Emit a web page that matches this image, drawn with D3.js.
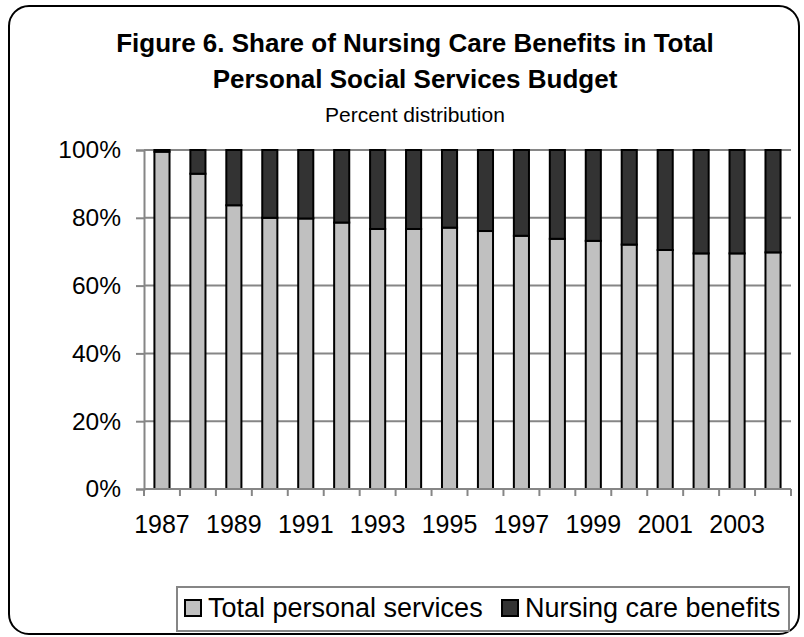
<!DOCTYPE html>
<html>
<head>
<meta charset="utf-8">
<script src="https://cdn.jsdelivr.net/npm/d3@7"></script>
<style>
  html, body { margin: 0; padding: 0; background: #fff; }
  text { font-family: "Liberation Sans", Arial, sans-serif; fill: #000; }
</style>
</head>
<body>
<svg id="chart" width="804" height="637"></svg>
<script>
const years = ["1987","1988","1989","1990","1991","1992","1993","1994","1995","1996","1997","1998","1999","2000","2001","2002","2003","2004"];
const totalPersonal = [99.5, 93.0, 83.7, 80.0, 79.8, 78.6, 76.7, 76.7, 77.1, 76.1, 74.7, 73.8, 73.2, 72.1, 70.5, 69.5, 69.5, 69.8];
const nursingCare = totalPersonal.map(v => +(100 - v).toFixed(1));
const seriesNames = ["Total personal services", "Nursing care benefits"];
const seriesColors = ["#c0c0c0", "#333333"];
const yTicks = [0, 20, 40, 60, 80, 100];
const titleLines = ["Figure 6. Share of Nursing Care Benefits in Total", "Personal Social Services Budget"];
const subtitle = "Percent distribution";

const svg = d3.select("#chart");
const plot = {left: 144, right: 791, top: 150, bottom: 489};

// Outer frame
svg.append("rect")
  .attr("x", 9).attr("y", 6).attr("width", 790).attr("height", 628)
  .attr("rx", 20).attr("ry", 20)
  .attr("fill", "#fff").attr("stroke", "#000").attr("stroke-width", 2);

// Titles
svg.append("text").attr("x", 415).attr("y", 52).attr("text-anchor", "middle")
  .style("font-size", "26px").style("font-weight", "bold").text(titleLines[0]);
svg.append("text").attr("x", 415).attr("y", 88).attr("text-anchor", "middle")
  .style("font-size", "26px").style("font-weight", "bold").text(titleLines[1]);
svg.append("text").attr("x", 415).attr("y", 122).attr("text-anchor", "middle")
  .style("font-size", "21px").text(subtitle);

const x = d3.scaleBand().domain(years).range([plot.left, plot.right]).paddingInner(0.58).paddingOuter(0.29);
const xb = d3.scaleBand().domain(years).range([plot.left, plot.right]);
const y = d3.scaleLinear().domain([0, 100]).range([plot.bottom, plot.top]);

// Gridlines
svg.append("g").selectAll("line").data(yTicks.filter(t => t > 0)).join("line")
  .attr("x1", plot.left).attr("x2", plot.right)
  .attr("y1", d => y(d)).attr("y2", d => y(d))
  .attr("stroke", "#868686").attr("stroke-width", 2);

// Bars
const stackData = years.map((yr, i) => ({year: yr, total: totalPersonal[i], nursing: nursingCare[i]}));
const stack = d3.stack().keys(["total", "nursing"])(stackData);
svg.append("g").selectAll("g").data(stack).join("g")
  .attr("fill", (d, i) => seriesColors[i])
  .selectAll("rect").data(d => d).join("rect")
  .attr("x", d => x(d.data.year))
  .attr("width", x.bandwidth())
  .attr("y", d => y(d[1]))
  .attr("height", d => y(d[0]) - y(d[1]))
  .attr("stroke", "#000").attr("stroke-width", 2);

// Y axis
const yAxis = d3.axisLeft(y).tickValues(yTicks).tickFormat(d => d + "%").tickSize(8).tickPadding(15);
const gy = svg.append("g").attr("transform", `translate(${plot.left},0)`).call(yAxis);
gy.select(".domain").attr("stroke", "#868686").attr("stroke-width", 2);
gy.selectAll(".tick line").attr("stroke", "#868686").attr("stroke-width", 2);
gy.selectAll(".tick text").style("font-size", "24.5px").attr("fill", "#000")
  .style("font-family", '"Liberation Sans", Arial, sans-serif');

// X axis: ticks at band boundaries
const gx = svg.append("g").attr("transform", `translate(0,${plot.bottom})`);
gx.append("line").attr("x1", plot.left).attr("x2", plot.right).attr("y1", 0).attr("y2", 0)
  .attr("stroke", "#868686").attr("stroke-width", 2);
const boundaries = years.map(yr => xb(yr)).concat([plot.right]);
gx.selectAll("line.tk").data(boundaries).join("line").attr("class", "tk")
  .attr("x1", d => d).attr("x2", d => d).attr("y1", 0).attr("y2", 7)
  .attr("stroke", "#868686").attr("stroke-width", 2);
gx.selectAll("text").data(years.filter((d, i) => i % 2 === 0)).join("text")
  .attr("x", d => xb(d) + xb.bandwidth() / 2).attr("y", 44)
  .attr("text-anchor", "middle").style("font-size", "25px").text(d => d);

// Legend
const lg = svg.append("g");
lg.append("rect").attr("x", 177).attr("y", 587).attr("width", 612).attr("height", 44)
  .attr("fill", "#fff").attr("stroke", "#868686").attr("stroke-width", 2);
const legendX = [185, 502];
seriesNames.forEach((name, i) => {
  lg.append("rect").attr("x", legendX[i]).attr("y", 600).attr("width", 16).attr("height", 16)
    .attr("fill", seriesColors[i]).attr("stroke", "#000").attr("stroke-width", 2);
  lg.append("text").attr("x", legendX[i] + 23).attr("y", 617).style("font-size", "27px").text(name);
});
</script>
</body>
</html>
